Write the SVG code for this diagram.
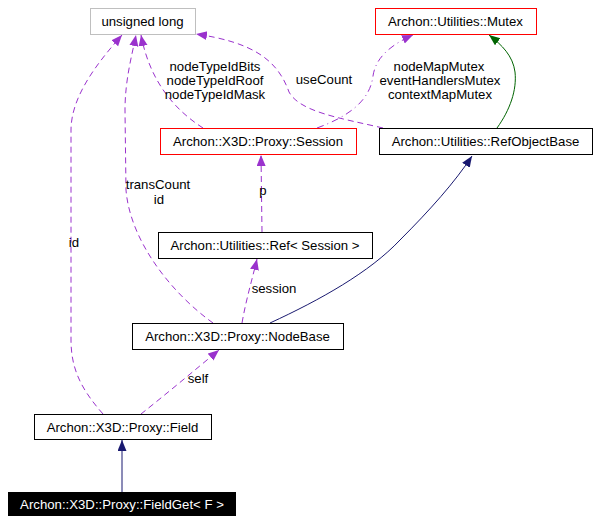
<svg xmlns="http://www.w3.org/2000/svg" width="599" height="523" viewBox="0 0 599 523">
<defs>
<style>
text{font-family:"Liberation Sans",Arial,sans-serif;font-size:13.2px;fill:#000;text-anchor:middle}
.box{fill:#fff;stroke:#000;stroke-width:1}
.red{stroke:#ff0000}
.gray{stroke:#bfbfbf}
.dark{fill:#000}
.wt{fill:#fff}
.use{fill:none;stroke:#9a32cd;stroke-width:1;stroke-dasharray:6,4}
.dd{fill:none;stroke:#9a32cd;stroke-width:1;stroke-dasharray:7,4,1,4}
.inh{fill:none;stroke:#191970;stroke-width:1}
.grn{fill:none;stroke:#006400;stroke-width:1}
</style>
<marker id="ap" markerUnits="userSpaceOnUse" markerWidth="12" markerHeight="10" refX="11" refY="4.5" orient="auto"><path d="M0,0 L11,4.5 L0,9 z" fill="#9a32cd"/></marker>
<marker id="an" markerUnits="userSpaceOnUse" markerWidth="12" markerHeight="10" refX="11" refY="4.5" orient="auto"><path d="M0,0 L11,4.5 L0,9 z" fill="#191970"/></marker>
<marker id="ag" markerUnits="userSpaceOnUse" markerWidth="12" markerHeight="10" refX="11" refY="4.5" orient="auto"><path d="M0,0 L11,4.5 L0,9 z" fill="#006400"/></marker>
</defs>
<rect width="599" height="523" fill="#fff"/>
<g id="edges">
<path class="inh" d="M122,492 L122,440" marker-end="url(#an)"/>
<path class="use" d="M141,414 C165,395 195,370 219,350" marker-end="url(#ap)"/>
<path class="use" d="M103,414 C82,390 71,370 71,340 L71,130 C71,95 100,60 122,35" marker-end="url(#ap)"/>
<path class="use" d="M213,323 C170,292 130,240 126,190 L125,110 C125,80 132,55 136,35" marker-end="url(#ap)"/>
<path class="use" d="M242,323 C246,300 252,280 257,259" marker-end="url(#ap)"/>
<path class="inh" d="M270,323 C320,300 370,272 400,240 C430,210 455,182 472,156" marker-end="url(#an)"/>
<path class="use" d="M262,232 L261,155" marker-end="url(#ap)"/>
<path class="use" d="M203,128 C175,110 150,82 141,35" marker-end="url(#ap)"/>
<path class="use" d="M383,128 C340,118 300,112 289,92 C277,58 250,42 196,34" marker-end="url(#ap)"/>
<path class="dd" d="M317,128 C350,116 370,100 373,76 C376,55 395,43 413,35" marker-end="url(#ap)"/>
<path class="grn" d="M497,128 C510,110 517,90 515,72 C513,56 502,45 489,35" marker-end="url(#ag)"/>
</g>
<g id="labels">
<text x="198" y="383">self</text>
<text x="74" y="247">id</text>
<text x="158" y="189">transCount</text>
<text x="159" y="203.5">id</text>
<text x="274" y="293">session</text>
<text x="263" y="195">p</text>
<text x="215" y="71">nodeTypeIdBits</text>
<text x="215" y="85">nodeTypeIdRoof</text>
<text x="215" y="99">nodeTypeIdMask</text>
<text x="324" y="84">useCount</text>
<text x="439" y="71">nodeMapMutex</text>
<text x="440" y="85">eventHandlersMutex</text>
<text x="440" y="99">contextMapMutex</text>
</g>
<g id="n_ulong"><rect class="box gray" x="90.5" y="8.5" width="105" height="26"/><text x="142.5" y="26">unsigned long</text></g>
<g id="n_mutex"><rect class="box red" x="375.5" y="8.5" width="161" height="26"/><text x="455.5" y="26">Archon::Utilities::Mutex</text></g>
<g id="n_session"><rect class="box red" x="160.5" y="128.5" width="196" height="26"/><text x="258" y="146">Archon::X3D::Proxy::Session</text></g>
<g id="n_refobj"><rect class="box" x="379.5" y="128.5" width="213" height="26"/><text x="485.5" y="146">Archon::Utilities::RefObjectBase</text></g>
<g id="n_ref"><rect class="box" x="158.5" y="232.5" width="214" height="26"/><text x="265" y="250">Archon::Utilities::Ref&lt; Session &gt;</text></g>
<g id="n_nodebase"><rect class="box" x="132.5" y="323.5" width="211" height="26"/><text x="237.5" y="341">Archon::X3D::Proxy::NodeBase</text></g>
<g id="n_field"><rect class="box" x="34.5" y="414.5" width="177" height="25"/><text x="122.5" y="432">Archon::X3D::Proxy::Field</text></g>
<g id="n_fieldget"><rect class="dark" x="8" y="492" width="228" height="24"/><text class="wt" x="122" y="509">Archon::X3D::Proxy::FieldGet&lt; F &gt;</text></g>
</svg>
